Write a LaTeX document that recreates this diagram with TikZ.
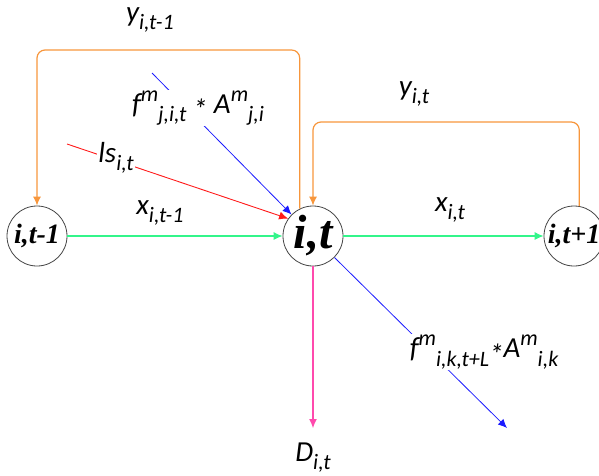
\documentclass[tikz,border=0pt]{standalone}
\usepackage{fontspec}
\setmainfont{Carlito}
\newfontfamily\statefont{Liberation Serif}
\usepackage{tikz}
\usetikzlibrary{arrows.meta, positioning, calc}
\definecolor{yorange}{HTML}{F7963C}
\definecolor{xgreen}{HTML}{33F58A}
\definecolor{lsred}{HTML}{FF1A1A}
\definecolor{fblue}{HTML}{1A1AFF}
\definecolor{dpink}{HTML}{FF4AAD}
\definecolor{rimgray}{HTML}{444444}
% sub- and superscripts written inline
\newcommand{\lo}[1]{\raisebox{-0.28em}{\fontsize{22}{22}\selectfont\itshape #1}}
\newcommand{\hi}[1]{\raisebox{0.42em}{\fontsize{22}{22}\selectfont\itshape #1}}
\newcommand{\mulstar}{\raisebox{-0.22em}{*}}

\begin{document}
\begin{tikzpicture}[
  x=1pt, y=-1pt,
  state/.style={circle, draw=rimgray, line width=0.8pt, minimum size=60pt, inner sep=0pt, font=\statefont\bfseries\itshape\fontsize{28}{28}\selectfont},
  bigstate/.style={state, font=\statefont\bfseries\itshape\fontsize{48}{48}\selectfont},
  lbl/.style={font=\itshape\fontsize{29}{29}\selectfont, inner sep=1pt},
  cover/.style={lbl, fill=white},
  tip/.style={-{Latex[length=9pt,width=8pt]}},
  yarr/.style={tip, yorange, line width=1.2pt, rounded corners=8pt},
  xarr/.style={tip, xgreen, line width=1.1pt},
  lsarr/.style={tip, lsred, line width=0.9pt},
  farr/.style={tip, fblue, line width=0.8pt},
  darr/.style={tip, dpink, line width=1.1pt}
]
\useasboundingbox (0,0) rectangle (599,475);

% states
\node[state] (prev) at (37,236) {i,t-1};
\node[bigstate] (it) at (313,236) {i,t};
\node[state] (next) at (574,236) {i,t+1};

% helper points
\coordinate (loopA) at (0,50);
\coordinate (loopB) at (0,122);
\coordinate (lsstart) at (67,144);
\coordinate (fstart) at (152,73);
\coordinate (fout) at (507,428);
\coordinate (dend) at (313,428);

% flows over time
\draw[xarr] (prev) -- (it);
\draw[xarr] (it) -- (next);
\draw[yarr] (it.116) |- (prev.north |- loopA) -- (prev.north);
\draw[yarr] (next.80) |- (it.north |- loopB) -- (it.north);

% inflows and outflows
\draw[lsarr] (lsstart) -- (it.145);
\draw[farr] (fstart) -- (it.135);
\draw[farr] (it.-45) -- (fout);
\draw[darr] (it.south) -- (dend);

% labels
\node[lbl] (ylast) at (150,20) {y\lo{i,t-1}};
\node[lbl] (ynow) at (414,94) {y\lo{i,t}};
\node[lbl] (xlast) at (160,213) {x\lo{i,t-1}};
\node[lbl] (xnow) at (450,210) {x\lo{i,t}};
\node[cover] (lslbl) at (116,158) {ls\lo{i,t}};
\node[cover] (finlbl) at (198,108) {f\hi{m}\lo{j,i,t} \mulstar\ A\hi{m}\lo{j,i}};
\node[cover] (foutlbl) at (484,352) {f\hi{m}\lo{i,k,t+L}\mulstar A\hi{m}\lo{i,k}};
\node[lbl] (dlbl) at (313,458) {D\lo{i,t}};

\end{tikzpicture}
\end{document}
